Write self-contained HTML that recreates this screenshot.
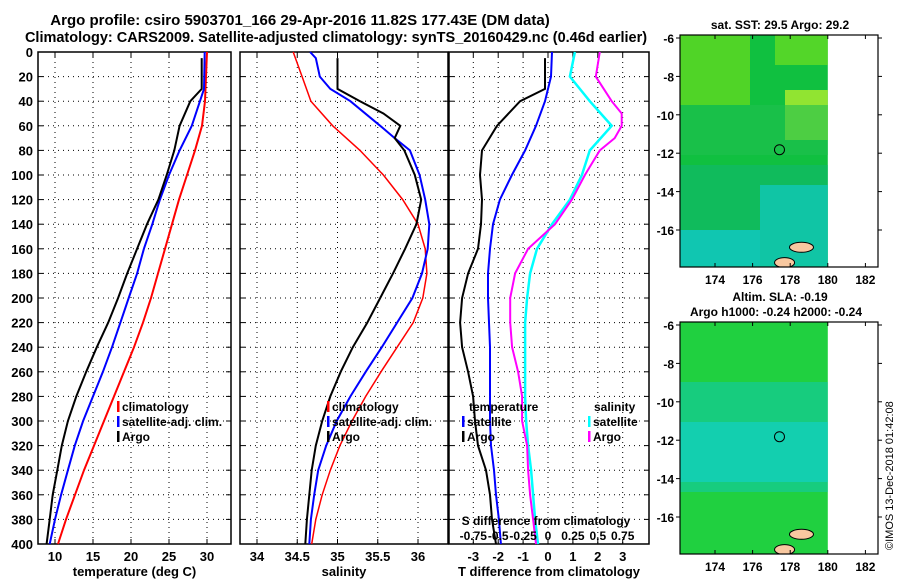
<!DOCTYPE html>
<html><head><meta charset="utf-8">
<style>
body{margin:0;background:#fff;}
svg{display:block;font-family:"Liberation Sans",sans-serif;font-weight:bold;}
</style></head><body>
<svg id="c" width="900" height="580" viewBox="0 0 900 580">
<text x="300" y="25" font-size="15" text-anchor="middle">Argo profile: csiro 5903701_166 29-Apr-2016 11.82S 177.43E (DM data)</text>
<text x="336" y="42" font-size="14.5" text-anchor="middle">Climatology: CARS2009. Satellite-adjusted climatology: synTS_20160429.nc (0.46d earlier)</text>
<g id="p1"></g>
<g id="p2"></g>
<g id="p3"></g>
<g id="m1"></g>
<g id="m2"></g>
<text transform="translate(893,550) rotate(-90)" font-size="11" font-weight="normal">©IMOS 13-Dec-2018 01:42:08</text>
</svg>
<script>
const depthTicks=[0,20,40,60,80,100,120,140,160,180,200,220,240,260,280,300,320,340,360,380,400];
const stdDepth=[0,20,40,60,80,100,120,140,160,180,200,220,240,260,280,300,320,340,360,380,400];
const tClim=[30.0,29.87,29.74,29.34,28.42,27.37,26.32,25.39,24.47,23.55,22.63,21.58,20.39,19.08,17.76,16.45,15.13,13.82,12.63,11.45,10.39];
const tSatDepth=[0,30,60,80,100,120,140,160,180,200,220,240,260,280,300,320,340,360,380,400];
const tSat=[29.7,29.6,28.0,26.4,25.0,23.8,22.8,21.7,20.8,19.7,18.6,17.5,16.3,15.0,13.7,12.6,11.7,10.8,10.0,9.3];
const argoDepth=[5,30,40,60,80,100,120,140,160,180,200,220,240,260,280,300,320,340,360,380,400];
const tArgo=[29.3,29.3,27.8,26.4,25.7,24.7,23.6,22.1,20.8,19.5,18.3,17.0,15.5,14.1,12.8,11.7,10.9,10.3,9.7,9.3,8.9];
const sClim=[34.45,34.56,34.67,34.94,35.28,35.57,35.81,36.0,36.09,36.11,36.06,35.94,35.74,35.54,35.35,35.18,35.03,34.91,34.81,34.73,34.68];
const sSatDepth=[0,5,20,30,40,60,70,80,100,120,140,160,180,200,220,240,260,280,300,320,340,360,380,400];
const sSat=[34.66,34.73,34.78,34.91,35.16,35.53,35.71,35.9,36.02,36.09,36.14,36.12,36.05,35.93,35.74,35.55,35.35,35.16,34.99,34.86,34.76,34.71,34.67,34.65];
const sArgoDepth=[5,30,40,50,60,70,80,100,120,140,160,180,200,220,240,260,280,300,320,340,360,380,400];
const sArgo=[35.0,35.0,35.28,35.57,35.78,35.71,35.83,35.96,36.04,35.98,35.84,35.69,35.53,35.37,35.19,35.04,34.91,34.81,34.73,34.68,34.65,34.62,34.6];
const dTSat=[0.16,0.12,-0.12,-0.48,-0.92,-1.45,-1.93,-2.21,-2.33,-2.41,-2.41,-2.37,-2.33,-2.33,-2.33,-2.33,-2.29,-2.17,-2.09,-1.97,-1.89];
const dTArgo=[-0.12,-0.12,-1.12,-2.05,-2.65,-2.73,-2.65,-2.69,-2.81,-3.21,-3.45,-3.53,-3.45,-3.21,-3.01,-2.93,-2.81,-2.49,-2.33,-2.25,-2.09];
const dSSat=[0.27,0.22,0.42,0.64,0.42,0.34,0.22,0.04,-0.11,-0.18,-0.21,-0.23,-0.23,-0.23,-0.23,-0.22,-0.2,-0.17,-0.15,-0.13,-0.10];
const dSArgoDepth=[0,20,40,50,60,70,80,100,120,140,160,180,200,220,240,260,280,300,320,340,360,380,400];
const dSArgo=[0.52,0.48,0.64,0.74,0.74,0.67,0.52,0.37,0.24,0.07,-0.2,-0.33,-0.38,-0.38,-0.36,-0.3,-0.26,-0.26,-0.21,-0.2,-0.18,-0.15,-0.12];
const tTicks=[10,15,20,25,30];
const sTicks=[34,34.5,35,35.5,36];
const dTTicks=[-3,-2,-1,0,1,2,3];
const dSTicks=["-0.75","-0.5","-0.25","0","0.25","0.5","0.75"];

const NS="http://www.w3.org/2000/svg";
function mk(p,tag,a,txt){const e=document.createElementNS(NS,tag);for(const k in a)e.setAttribute(k,a[k]);if(txt!==undefined)e.textContent=txt;p.appendChild(e);return e;}
const Y0=52,Y1=544;
const yD=d=>Y0+(Y1-Y0)*d/400;
function panel(g,x0,x1,xs,ticks,labels,xlabel,ylabels){
  for(const d of depthTicks){const y=yD(d);
    if(d>0&&d<400){const l=mk(g,'line',{x1:x0,x2:x1,y1:y,y2:y,stroke:'#000','stroke-width':1,'stroke-dasharray':'1,4'});
    }
    mk(g,'line',{x1:x0,x2:x0+5,y1:y,y2:y,stroke:'#000'});mk(g,'line',{x1:x1-5,x2:x1,y1:y,y2:y,stroke:'#000'});
    if(ylabels){const t=mk(g,'text',{x:x0-5,y:y+5,'font-size':13,'text-anchor':'end'},String(d));
    }
  }
  ticks.forEach((v,i)=>{const x=xs(v);
    const l=mk(g,'line',{x1:x,x2:x,y1:Y0,y2:Y1,stroke:'#000','stroke-dasharray':'1,4'});
    
    mk(g,'line',{x1:x,x2:x,y1:Y1,y2:Y1-5,stroke:'#000'});mk(g,'line',{x1:x,x2:x,y1:Y0,y2:Y0+5,stroke:'#000'});
    const t=mk(g,'text',{x:x,y:Y1+17,'font-size':13,'text-anchor':'middle'},labels[i]);
    });
  const r=mk(g,'rect',{x:x0,y:Y0,width:x1-x0,height:Y1-Y0,fill:'none',stroke:'#000','stroke-width':1.5});
  
  const xl=mk(g,'text',{x:(x0+x1)/2,y:576,'font-size':13,'text-anchor':'middle'},xlabel);
  
}
function line(g,xs,vals,deps,col,w,name){
  const pts=vals.map((v,i)=>xs(v).toFixed(1)+','+yD(deps[i]).toFixed(1)).join(' ');
  const p=mk(g,'polyline',{points:pts,fill:'none',stroke:col,'stroke-width':w});
  
}
function legend(g,x,y,items){items.forEach((it,i)=>{
  const yy=y+i*15;
  mk(g,'rect',{x:x,y:yy-9,width:2.5,height:11,fill:it[1]});
  const t=mk(g,'text',{x:x+5,y:yy+1,'font-size':12},it[0]);
  });}

const p1=document.getElementById('p1');
const xT=v=>55+7.6*(v-10);
panel(p1,38,231,xT,tTicks,tTicks.map(String),'temperature (deg C)',true);
line(p1,xT,tClim,stdDepth,'#f00',2,'climatology-temp-line');
line(p1,xT,tSat,tSatDepth,'#00f',2,'satellite-temp-line');
line(p1,xT,tArgo,argoDepth,'#000',2,'argo-temp-line');
legend(p1,117,410,[['climatology','#f00'],['satellite-adj. clim.','#00f'],['Argo','#000']]);
const p2=document.getElementById('p2');
const xS=v=>257+80.5*(v-34);
panel(p2,240,448,xS,sTicks,sTicks.map(String),'salinity',false);
line(p2,xS,sClim,stdDepth,'#f00',1.5,'climatology-salinity-line');
line(p2,xS,sSat,sSatDepth,'#00f',2,'satellite-salinity-line');
line(p2,xS,sArgo,sArgoDepth,'#000',2,'argo-salinity-line');
legend(p2,327,410,[['climatology','#f00'],['satellite-adj. clim.','#00f'],['Argo','#000']]);
const p3=document.getElementById('p3');
const xD=v=>548+24.9*v;
const xDS=v=>548+99.6*v;
panel(p3,449,649,xD,dTTicks,dTTicks.map(String),'T difference from climatology',false);
line(p3,xD,dTSat,stdDepth,'#00f',2,'temp-diff-satellite-line');
line(p3,xD,dTArgo,argoDepth,'#000',2,'temp-diff-argo-line');
line(p3,xDS,dSSat,stdDepth,'#0ff',2.5,'sal-diff-satellite-line');
line(p3,xDS,dSArgo,dSArgoDepth,'#f0f',2,'sal-diff-argo-line');
{const t=mk(p3,'text',{x:469,y:411,'font-size':12},'temperature');
const t2=mk(p3,'text',{x:594,y:411,'font-size':12},'salinity');}
legend(p3,462,425,[['satellite','#00f'],['Argo','#000']]);
legend(p3,588,425,[['satellite','#0ff'],['Argo','#f0f']]);
{const t=mk(p3,'text',{x:546,y:525,'font-size':12,'text-anchor':'middle'},'S difference from climatology');}
dSTicks.forEach(s=>{const t=mk(p3,'text',{x:xDS(parseFloat(s)),y:540,'font-size':12,'text-anchor':'middle'},s);
});

const lonTicks=[174,176,178,180,182];
const latTicks=[-6,-8,-10,-12,-14,-16];
function map(g,top,title1,title2,kind){
  const x0=680,x1=878,y1=top+232;
  const xL=v=>715+18.8*(v-174);
  const yL=v=>top+3+19.2*(-6-v);
  const clip='cl'+kind;
  const defs=mk(g,'defs',{});const cp=mk(defs,'clipPath',{id:clip});mk(cp,'rect',{x:x0,y:top,width:xL(180)-x0,height:y1-top});
  const d=mk(g,'g',{'clip-path':'url(#'+clip+')'});
  if(kind==='sst'){
    mk(d,'rect',{x:x0,y:top,width:200,height:240,fill:'#10c040'});
    mk(d,'rect',{x:x0,y:top,width:70,height:70,fill:'#60d820',opacity:0.8});
    mk(d,'rect',{x:x0+95,y:top,width:55,height:30,fill:'#70e020',opacity:0.7});
    mk(d,'rect',{x:x0+105,y:top+55,width:45,height:50,fill:'#a0e830',opacity:0.9});
    mk(d,'rect',{x:x0,y:top+70,width:148,height:50,fill:'#20c050',opacity:0.6});
    mk(d,'rect',{x:x0,y:top+130,width:148,height:100,fill:'#10b870',opacity:0.6});
    mk(d,'rect',{x:x0+80,y:top+150,width:70,height:90,fill:'#10c8b8',opacity:0.8});
    mk(d,'rect',{x:x0,y:top+195,width:80,height:40,fill:'#10c8c0',opacity:0.85});
  } else {
    mk(d,'rect',{x:x0,y:top,width:200,height:240,fill:'#20d040'});
    mk(d,'rect',{x:x0,y:top+60,width:148,height:110,fill:'#10c8b0',opacity:0.55});
    mk(d,'rect',{x:x0,y:top+100,width:148,height:60,fill:'#10d0d0',opacity:0.6});
  }
  mk(d,'ellipse',{cx:xL(178.6),cy:yL(-16.9),rx:12,ry:5,fill:'#f8c8a0',stroke:'#000'});
  mk(d,'ellipse',{cx:xL(177.7),cy:yL(-17.7),rx:10,ry:5,fill:'#f8c8a0',stroke:'#000'});
  const c=mk(g,'circle',{cx:xL(177.43),cy:yL(-11.82),r:5,fill:'none',stroke:'#000'});
  
  const r=mk(g,'rect',{x:x0,y:top,width:x1-x0,height:y1-top,fill:'none',stroke:'#000','stroke-width':1.2});
  
  lonTicks.forEach(v=>{const x=xL(v);mk(g,'line',{x1:x,x2:x,y1:y1,y2:y1-4,stroke:'#000'});mk(g,'line',{x1:x,x2:x,y1:top,y2:top+4,stroke:'#000'});
    const t=mk(g,'text',{x:x,y:y1+17,'font-size':12,'text-anchor':'middle'},String(v));});
  latTicks.forEach(v=>{const y=yL(v);mk(g,'line',{x1:x0,x2:x0-4,y1:y,y2:y,stroke:'#000'});mk(g,'line',{x1:x1,x2:x1+4,y1:y,y2:y,stroke:'#000'});
    const t=mk(g,'text',{x:x0-6,y:y+5,'font-size':12,'text-anchor':'end'},String(v));});
  const t1=mk(g,'text',{x:780,y:top-(title2?21:6),'font-size':12,'text-anchor':'middle'},title1);
  if(title2){const t2=mk(g,'text',{x:776,y:top-6,'font-size':12,'text-anchor':'middle'},title2);}
}
map(document.getElementById('m1'),35,'sat. SST: 29.5 Argo: 29.2',null,'sst');
map(document.getElementById('m2'),322,'Altim. SLA: -0.19','Argo h1000: -0.24 h2000: -0.24','sla');
</script>
</body></html>
